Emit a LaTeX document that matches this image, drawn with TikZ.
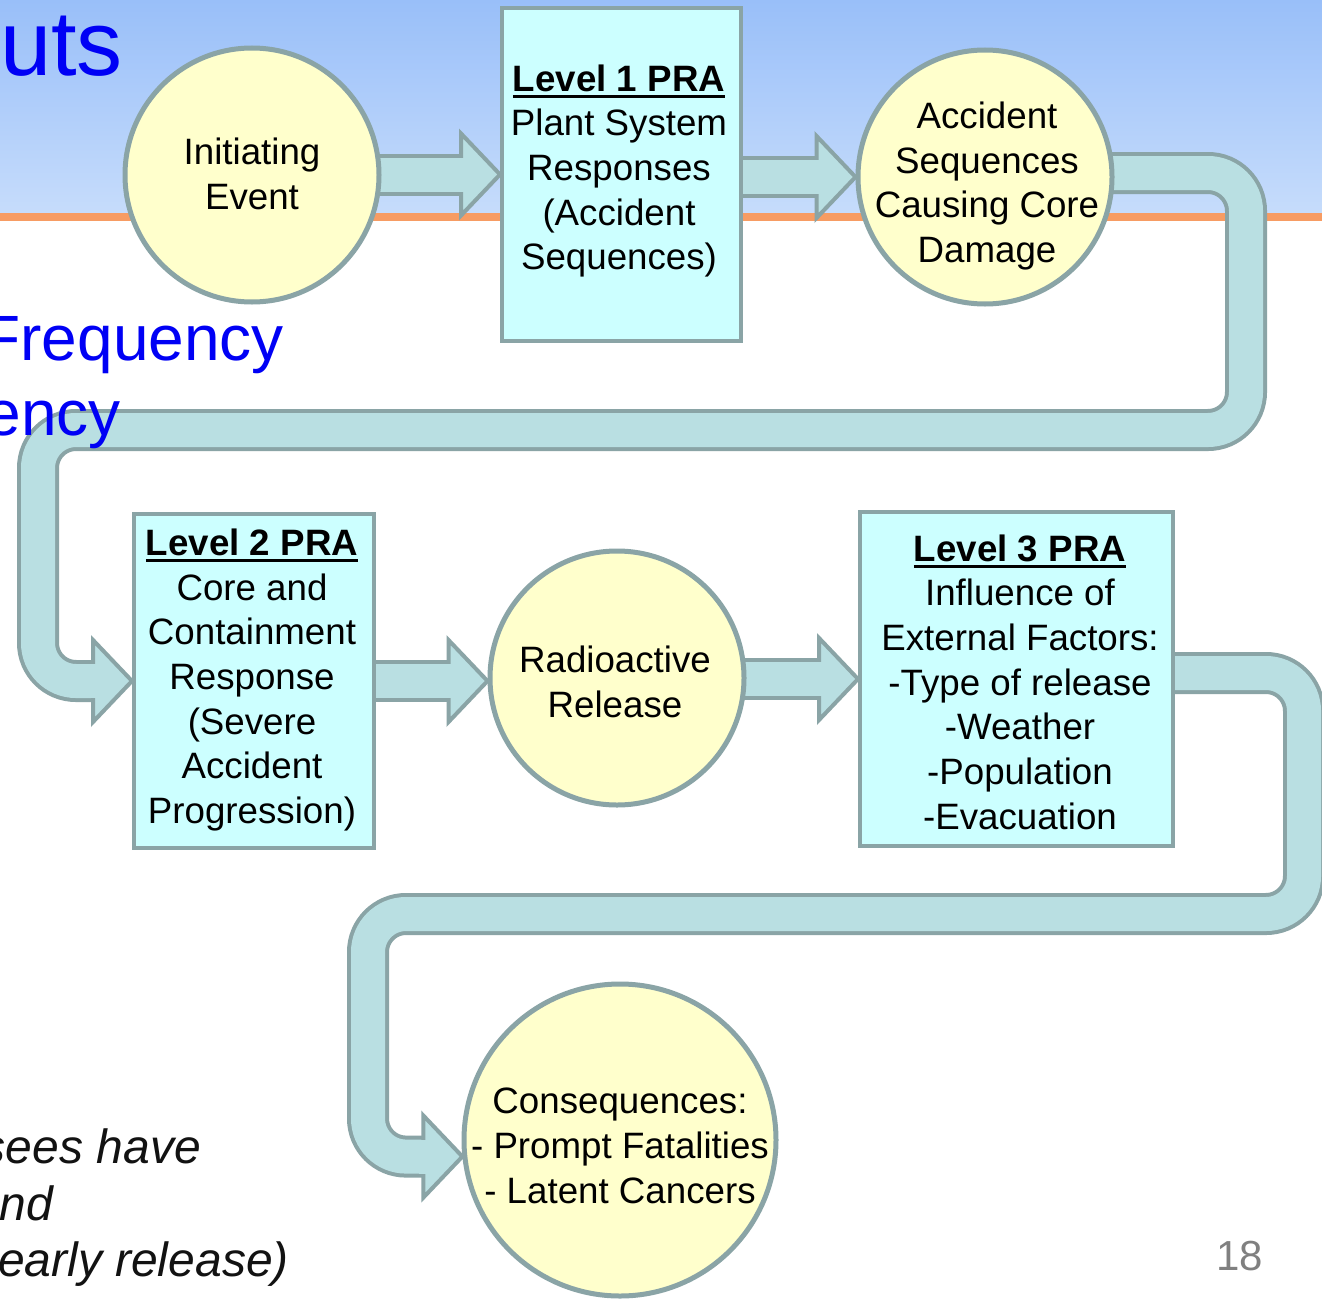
\documentclass[tikz,border=0pt]{standalone}
\usepackage{fontspec}
\setmainfont{Liberation Sans}
\usetikzlibrary{calc}

\definecolor{bandtop}{HTML}{99BFF9}
\definecolor{bandbot}{HTML}{C6DCFB}
\definecolor{rulecol}{HTML}{F79C63}
\definecolor{edgegray}{HTML}{8AA4A6}
\definecolor{pipefill}{HTML}{B9DFE2}
\definecolor{ballfill}{HTML}{FFFFCC}
\definecolor{boxfill}{HTML}{CCFFFF}
\definecolor{titleblue}{HTML}{0000F5}
\definecolor{pagenum}{HTML}{808080}

\pgfdeclarelayer{bg}
\pgfdeclarelayer{pipes}
\pgfsetlayers{bg,pipes,main}

% bold heading with a heavy underline
\newcommand\ulbold[1]{\setbox0=\hbox{\bfseries #1}\rlap{\copy0}\rule[-6.5pt]{\wd0}{2.8pt}}

% block arrow: #1 = shaft path up to its last operator, #2 = tip point
\newcommand\flowpipe[2]{%
  \draw[pipeedge] #1 ($(#2)+(-39,0)$);
  \draw[pipebody] #1 ($(#2)+(-39,0)$);
  \filldraw[pipehead] (#2) -- ++(-39,-41) -- ++(0,82) -- cycle;
  \draw[pipebody] ($(#2)+(-43,0)$) -- ($(#2)+(-33,0)$);
}

\tikzset{
  ball/.style={circle, draw=edgegray, line width=5pt, fill=ballfill, inner sep=0pt},
  panel/.style={rectangle, draw=edgegray, line width=4pt, fill=boxfill, inner sep=0pt},
  body/.style={align=center, inner sep=0pt, font=\fontsize{36.7}{44.7}\selectfont},
  pipeedge/.style={draw=edgegray, line width=42pt, rounded corners=38pt},
  pipebody/.style={draw=pipefill, line width=34pt, rounded corners=38pt},
  pipehead/.style={fill=pipefill, draw=edgegray, line width=4pt, line join=miter},
  headline/.style={anchor=base east, inner sep=0pt, text=titleblue},
  note/.style={anchor=base east, inner sep=0pt, text=black!93,
    font=\fontsize{48}{58}\selectfont\itshape},
}

\begin{document}
\begin{tikzpicture}[x=1pt, y=-1pt]
\useasboundingbox (0,0) rectangle (1322,1298);

% slide background: gradient band and orange rule
\begin{pgfonlayer}{bg}
  \fill[white] (0,0) rectangle (1322,1298);
  \shade[top color=bandtop, bottom color=bandbot] (0,0) rectangle (1322,213);
  \fill[rulecol] (0,213) rectangle (1322,221);
\end{pgfonlayer}

% stages
\node[ball, minimum size=254pt] (c1) at (252,175) {};
\node[body] (c1t) at (252,174) {Initiating\\Event};

\node[panel, minimum width=239pt, minimum height=333pt] (l1) at (621.5,174.5) {};
\node[body] (l1t) at (619,171) {\ulbold{Level 1 PRA}\\Plant System\\Responses\\(Accident\\Sequences)};

\node[ball, minimum size=254pt] (c2) at (985,177) {};
\node[body] (c2t) at (987,186) {Accident\\Sequences\\Causing Core\\Damage};

\node[panel, minimum width=240pt, minimum height=334pt] (l2) at (254,681) {};
\node[body] (l2t) at (252,680) {\ulbold{Level 2 PRA}\\Core and\\Containment\\Response\\(Severe\\Accident\\Progression)};

\node[ball, minimum size=254pt] (c3) at (617,678) {};
\node[body] (c3t) at (615,682) {Radioactive\\Release};

\node[panel, minimum width=313pt, minimum height=334pt] (l3) at (1016.5,679) {};
\node[body] (l3t) at (1020,682) {\ulbold{Level 3 PRA}\\Influence of\\External Factors:\\-Type of release\\-Weather\\-Population\\-Evacuation};

\node[ball, minimum size=312pt] (c4) at (620,1140) {};
\node[body] (c4t) at (620,1146) {Consequences:\\- Prompt Fatalities\\- Latent Cancers};

% straight arrow ends, kept level
\coordinate (s1) at ($(c1.east |- l1.west)+(-10,0)$);
\coordinate (s2) at ($(l1.east |- c2.west)+(-10,0)$);
\coordinate (t3) at (c3.west |- l2.east);
\coordinate (s4) at ($(c3.east |- l3.west)+(-10,0)$);

% connectors
\begin{pgfonlayer}{pipes}
  \flowpipe{(s1) --}{l1.west}
  \flowpipe{(s2) --}{c2.west}
  \flowpipe{($(c2.east)+(-10,-4)$) -| (1246,430) -- (38,430) |-}{l2.west}
  \flowpipe{($(l2.east)+(-10,0)$) --}{t3}
  \flowpipe{(s4) --}{l3.west}
  \flowpipe{($(l3.east)+(-10,-6)$) -| (1304,914) -- (368,914) |-}{c4.186}
\end{pgfonlayer}

% slide text around the chart
\node[headline, font=\fontsize{92}{110}\selectfont] (ttl) at (123,76) {uts};
\node[headline, font=\fontsize{64}{76}\selectfont] (fq1) at (284,360) {Frequency};
\node[headline, font=\fontsize{64}{76}\selectfont] (fq2) at (121,435) {ency};
\node[note] (n1) at (201,1163) {sees have};
\node[note] (n2) at (53,1220) {nd};
\node[note] (n3) at (289,1276) {early release)};
\node[anchor=base east, inner sep=0pt, text=pagenum, font=\fontsize{42}{50}\selectfont] (pg) at (1263,1270) {18};
\end{tikzpicture}
\end{document}
